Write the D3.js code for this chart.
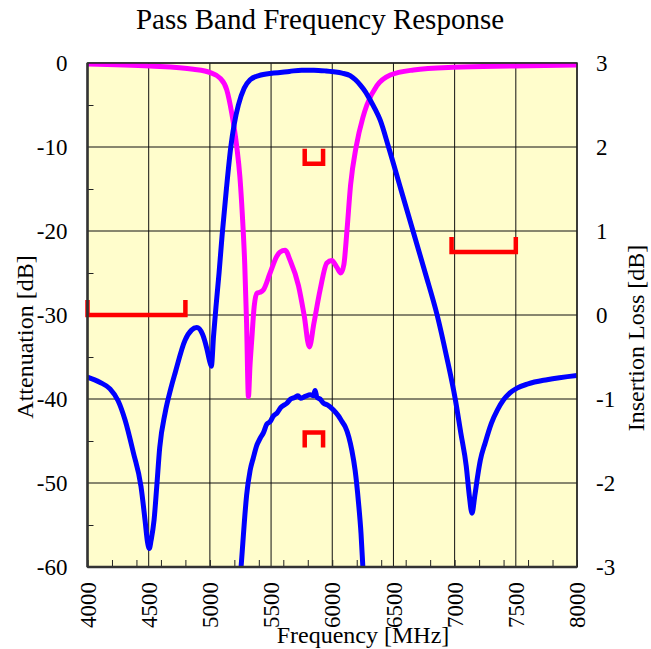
<!DOCTYPE html>
<html>
<head>
<meta charset="utf-8">
<script src="https://cdn.jsdelivr.net/npm/d3@7"></script>
<style>
  body { margin: 0; background: #fff; }
  text { font-family: "Liberation Serif", "Times New Roman", Times, serif; fill: #000; }
</style>
</head>
<body>
<div id="grafico"></div>
<script>
// Datos
var freqTicks = [4000, 4500, 5000, 5500, 6000, 6500, 7000, 7500, 8000];
var attTicks = [0, -10, -20, -30, -40, -50, -60];
var ilTicks = [3, 2, 1, 0, -1, -2, -3];

// Atenuacion (eje izquierdo) - azul
var attFreq = [4000, 4100, 4184, 4250, 4307, 4375, 4437, 4470, 4490, 4505, 4520, 4544, 4566, 4590, 4635, 4680, 4716, 4797, 4850, 4893, 4940, 4975, 5000, 5012, 5030, 5050, 5075, 5100, 5135, 5171, 5200, 5233, 5280, 5329, 5400, 5520, 5650, 5750, 5850, 5950, 6010, 6080, 6146, 6190, 6228, 6270, 6310, 6350, 6392, 6460, 6560, 6660, 6760, 6857, 6935, 7005, 7050, 7095, 7120, 7142, 7165, 7190, 7210, 7250, 7300, 7350, 7400, 7450, 7510, 7600, 7755, 8000];
var attVal = [-37.4, -38.0, -38.8, -40.2, -42.5, -46.4, -50.4, -54.4, -57.0, -57.8, -56.8, -54.4, -50.4, -45.8, -41.6, -38.8, -36.9, -33.0, -31.8, -31.5, -32.3, -34.0, -35.6, -36.1, -32.5, -29.0, -25.0, -20.5, -15.0, -10.0, -7.2, -5.0, -3.0, -2.0, -1.5, -1.2, -1.0, -0.85, -0.85, -0.95, -1.05, -1.2, -1.5, -2.0, -2.6, -3.4, -4.4, -5.5, -6.8, -10.0, -15.0, -20.0, -25.0, -30.0, -35.0, -40.0, -44.0, -48.0, -51.5, -53.6, -51.5, -49.0, -47.3, -45.2, -42.9, -41.3, -40.1, -39.3, -38.7, -38.2, -37.7, -37.2];

// Perdidas de retorno (eje izquierdo) - magenta
var rlFreq = [4000, 4511, 4865, 5002, 5083, 5138, 5179, 5220, 5245, 5265, 5285, 5300, 5315, 5328, 5342, 5362, 5384, 5410, 5438, 5492, 5547, 5574, 5615, 5656, 5724, 5770, 5813, 5850, 5901, 5956, 5996, 6037, 6070, 6095, 6120, 6150, 6195, 6250, 6283, 6365, 6474, 6664, 6991, 7482, 8000];
var rlVal = [-0.12, -0.36, -0.75, -1.15, -1.8, -3.2, -6.0, -10.0, -13.5, -18.0, -24.0, -31.0, -39.7, -36.0, -33.0, -29.0, -27.4, -27.3, -27.0, -25.0, -23.0, -22.5, -22.3, -23.5, -26.5, -30.0, -33.8, -31.0, -27.0, -23.8, -23.5, -24.3, -25.0, -24.0, -20.0, -14.5, -10.0, -6.5, -5.0, -2.7, -1.43, -0.83, -0.51, -0.36, -0.24];

// Perdidas de insercion (eje derecho) - azul
var ilFreq = [5230, 5255, 5270, 5283, 5300, 5329, 5355, 5384, 5410, 5438, 5465, 5492, 5520, 5547, 5580, 5629, 5660, 5697, 5720, 5740, 5779, 5820, 5845, 5860, 5875, 5900, 5928, 5960, 6010, 6050, 6080, 6106, 6135, 6160, 6187, 6215, 6235, 6250, 6265];
var ilVal = [-3.4, -3.0, -2.7, -2.44, -2.15, -1.85, -1.7, -1.55, -1.47, -1.40, -1.30, -1.27, -1.2, -1.17, -1.1, -1.05, -1.0, -0.98, -0.96, -0.99, -0.97, -0.95, -0.96, -0.9, -0.98, -1.0, -1.05, -1.07, -1.13, -1.2, -1.27, -1.33, -1.45, -1.61, -1.85, -2.24, -2.6, -3.0, -3.4];

// Especificaciones (rojo): rango de frecuencia, valor, eje y sentido de la marca
var specF1 = [4000, 6975, 5775, 5775];
var specF2 = [4800, 7500, 5925, 5925];
var specVal = [-30, -22.5, -12, -1.4];
var specEje = ["izq", "izq", "izq", "der"];
var specSentido = ["arriba", "arriba", "arriba", "abajo"];

var W = 651, H = 649;
var margin = { top: 63, right: 74, bottom: 82, left: 87.5 };
var width = W - margin.left - margin.right,
    height = H - margin.top - margin.bottom;

var svg = d3.select("#grafico").append("svg")
    .attr("width", W)
    .attr("height", H);

var g = svg.append("g")
    .attr("transform", "translate(" + margin.left + "," + margin.top + ")");

var x = d3.scaleLinear().domain([4000, 8000]).range([0, width]);
var yL = d3.scaleLinear().domain([-60, 0]).range([height, 0]);
var yR = d3.scaleLinear().domain([-3, 3]).range([height, 0]);

// Fondo del area de dibujo
g.append("rect")
    .attr("width", width)
    .attr("height", height)
    .attr("fill", "#FFFDCC");

// Rejilla
g.append("g")
    .selectAll("line")
    .data(freqTicks)
    .enter().append("line")
    .attr("x1", function (d) { return x(d); })
    .attr("x2", function (d) { return x(d); })
    .attr("y1", 0)
    .attr("y2", height)
    .attr("stroke", "#111")
    .attr("stroke-width", 1);

g.append("g")
    .selectAll("line")
    .data(attTicks)
    .enter().append("line")
    .attr("x1", 0)
    .attr("x2", width)
    .attr("y1", function (d) { return yL(d); })
    .attr("y2", function (d) { return yL(d); })
    .attr("stroke", "#111")
    .attr("stroke-width", 1);

// Marcas menores hacia dentro
g.append("g")
    .attr("transform", "translate(0," + height + ")")
    .call(d3.axisBottom(x).tickValues(d3.range(4000, 8001, 200)).tickSize(-7).tickFormat(""))
    .call(function (s) { s.select(".domain").remove(); s.selectAll("line").attr("stroke", "#222"); });

g.append("g")
    .call(d3.axisLeft(yL).tickValues(d3.range(-55, 0, 10)).tickSize(-6).tickFormat(""))
    .call(function (s) { s.select(".domain").remove(); s.selectAll("line").attr("stroke", "#222"); });

// Curvas
g.append("clipPath").attr("id", "recorte")
    .append("rect").attr("width", width).attr("height", height);

var curvas = g.append("g").attr("clip-path", "url(#recorte)");

var lineaL = d3.line()
    .x(function (d) { return x(d[0]); })
    .y(function (d) { return yL(d[1]); })
    .curve(d3.curveMonotoneX);

var lineaR = d3.line()
    .x(function (d) { return x(d[0]); })
    .y(function (d) { return yR(d[1]); })
    .curve(d3.curveMonotoneX);

curvas.append("path")
    .datum(d3.zip(rlFreq, rlVal))
    .attr("d", lineaL)
    .attr("fill", "none")
    .attr("stroke", "#FF00FF")
    .attr("stroke-width", 5)
    .attr("stroke-linejoin", "round");

curvas.append("path")
    .datum(d3.zip(attFreq, attVal))
    .attr("d", lineaL)
    .attr("fill", "none")
    .attr("stroke", "#0000FF")
    .attr("stroke-width", 5)
    .attr("stroke-linejoin", "round");

curvas.append("path")
    .datum(d3.zip(ilFreq, ilVal))
    .attr("d", lineaR)
    .attr("fill", "none")
    .attr("stroke", "#0000FF")
    .attr("stroke-width", 5)
    .attr("stroke-linejoin", "round");

// Especificaciones en rojo
var marca = 15;
specVal.forEach(function (v, i) {
    var yy = specEje[i] == "der" ? yR(v) : yL(v);
    var dy = specSentido[i] == "arriba" ? -marca : marca;
    var x1 = x(specF1[i]), x2 = x(specF2[i]);
    g.append("path")
        .attr("d", "M" + x1 + "," + (yy + dy) + "V" + yy + "H" + x2 + "V" + (yy + dy))
        .attr("fill", "none")
        .attr("stroke", "#FF0000")
        .attr("stroke-width", 4.5);
});

// Marco
g.append("rect")
    .attr("width", width)
    .attr("height", height)
    .attr("fill", "none")
    .attr("stroke", "#222")
    .attr("stroke-width", 1.5);
g.append("line").attr("x1", 0).attr("x2", 0).attr("y1", 0).attr("y2", height)
    .attr("stroke", "#333").attr("stroke-width", 2.5);
g.append("line").attr("x1", 0).attr("x2", width).attr("y1", height).attr("y2", height)
    .attr("stroke", "#333").attr("stroke-width", 2.5);

// Etiquetas de los ejes
g.selectAll(".lblIzq")
    .data(attTicks)
    .enter().append("text")
    .attr("class", "lblIzq")
    .attr("x", -20)
    .attr("y", function (d) { return yL(d); })
    .attr("dy", "0.35em")
    .attr("text-anchor", "end")
    .style("font-size", "23px")
    .text(function (d) { return d; });

g.selectAll(".lblDer")
    .data(ilTicks)
    .enter().append("text")
    .attr("class", "lblDer")
    .attr("x", width + 19)
    .attr("y", function (d) { return yR(d); })
    .attr("dy", "0.35em")
    .attr("text-anchor", "start")
    .style("font-size", "23px")
    .text(function (d) { return d; });

g.selectAll(".lblX")
    .data(freqTicks)
    .enter().append("text")
    .attr("class", "lblX")
    .attr("transform", function (d) { return "translate(" + x(d) + "," + (height + 15) + ") rotate(-90)"; })
    .attr("dy", "0.35em")
    .attr("text-anchor", "end")
    .style("font-size", "23px")
    .text(function (d) { return d; });

// Titulos
svg.append("text")
    .attr("x", 320)
    .attr("y", 29)
    .attr("text-anchor", "middle")
    .style("font-size", "29px")
    .text("Pass Band Frequency Response");

svg.append("text")
    .attr("transform", "translate(33,337) rotate(-90)")
    .attr("text-anchor", "middle")
    .style("font-size", "24px")
    .text("Attenuation [dB]");

svg.append("text")
    .attr("transform", "translate(644,338) rotate(-90)")
    .attr("text-anchor", "middle")
    .style("font-size", "24px")
    .text("Insertion Loss [dB]");

svg.append("text")
    .attr("x", 363)
    .attr("y", 643)
    .attr("text-anchor", "middle")
    .style("font-size", "24px")
    .text("Frequency [MHz]");
</script>
</body>
</html>
